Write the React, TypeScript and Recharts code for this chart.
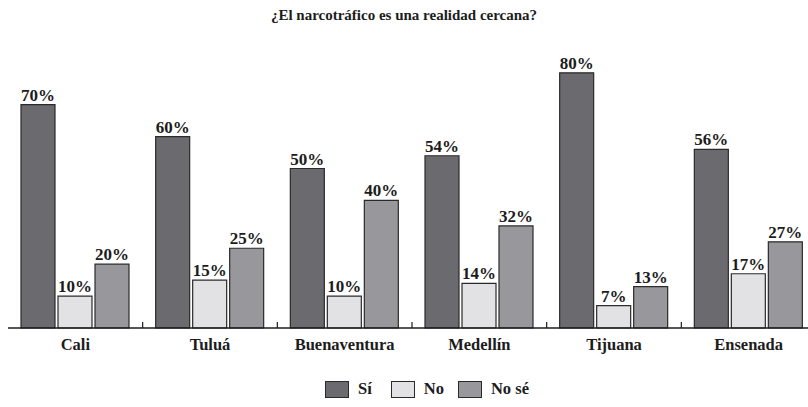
import React from 'react';
import { BarChart, Bar, XAxis, YAxis, LabelList } from 'recharts';

const title = '¿El narcotráfico es una realidad cercana?';
const cities = ['Cali', 'Tuluá', 'Buenaventura', 'Medellín', 'Tijuana', 'Ensenada'];
const si = [70, 60, 50, 54, 80, 56];
const no = [10, 15, 10, 14, 7, 17];
const noSe = [20, 25, 40, 32, 13, 27];

const seriesNames = ['Sí', 'No', 'No sé'];
const seriesKeys = ['si', 'no', 'noSe'];
const seriesColors = ['#6b6b6f', '#e2e2e4', '#98989c'];

const data = cities.map((c, i) => ({ city: c, si: si[i], no: no[i], noSe: noSe[i] }));

const FONT = "'Liberation Serif', 'DejaVu Serif', serif";
const INK = '#1c1c1c';

const CityTick = (props: any) => {
    const { x, y, payload, index } = props;
    const half = payload?.offset ?? 0;
    return (
        <g>
            {index > 0 && (
                <line x1={x - half} x2={x - half} y1={y} y2={y - 6} stroke={INK} strokeWidth={1.2} />
            )}
            <text x={x} y={y + 22} textAnchor="middle" fontFamily={FONT} fontWeight={700} fontSize={16.5} fill={INK}>
                {payload.value}
            </text>
        </g>
    );
};

const Legend = () => (
    <div style={{ position: 'absolute', top: 379, left: 325, display: 'flex', alignItems: 'center', fontFamily: FONT, fontWeight: 700, fontSize: 16.5, color: INK }}>
        {seriesNames.map((n, i) => (
            <div key={n} style={{ display: 'flex', alignItems: 'center', marginRight: i === 0 ? 19 : 14 }}>
                <span style={{ display: 'inline-block', width: 24, height: 17, background: seriesColors[i], border: '1.2px solid #2a2a2a', boxSizing: 'border-box', marginRight: 9 }} />
                <span>{n}</span>
            </div>
        ))}
    </div>
);

export default function App() {
    return (
        <div style={{ position: 'fixed', top: 0, left: 0, width: 808, height: 407, background: '#fff', overflow: 'hidden' }}>
            <div style={{ position: 'absolute', top: 7, left: 0, width: 808, textAlign: 'center', fontFamily: FONT, fontWeight: 700, fontSize: 15, color: INK }}>
                {title}
            </div>
            <BarChart width={816} height={407} data={data} margin={{ top: 9, right: 0, left: 8, bottom: 49 }} barCategoryGap={13} barGap={3}>
                <XAxis dataKey="city" height={30} axisLine={{ stroke: INK, strokeWidth: 1.5 }} tickLine={false} tickSize={0} tickMargin={0} tick={<CityTick />} interval={0} />
                <YAxis hide domain={[0, 100]} />
                {seriesKeys.map((k, i) => (
                    <Bar key={k} dataKey={k} name={seriesNames[i]} fill={seriesColors[i]} stroke="#2a2a2a" strokeWidth={1.2} isAnimationActive={false}>
                        <LabelList dataKey={k} position="top" offset={4} formatter={(v: any) => `${v}%`} style={{ fontFamily: FONT, fontWeight: 700, fontSize: 17, fill: INK }} />
                    </Bar>
                ))}
            </BarChart>
            <Legend />
        </div>
    );
}
